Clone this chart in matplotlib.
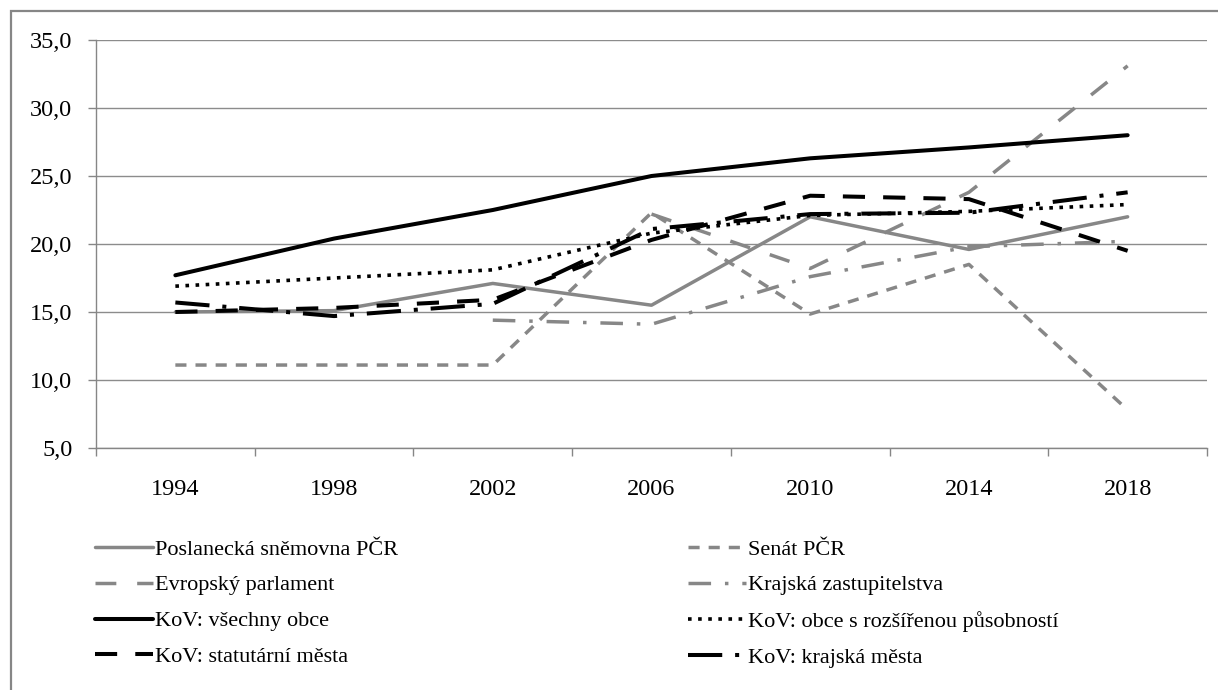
import numpy as np
import matplotlib
matplotlib.use("Agg")
import matplotlib.pyplot as plt
from matplotlib.patches import Rectangle
from matplotlib.ticker import FixedLocator, FuncFormatter

plt.rcParams['font.family'] = ['Liberation Serif', 'DejaVu Serif']

years = ['1994', '1998', '2002', '2006', '2010', '2014', '2018']
nan = np.nan
poslanecka = [15.0, 15.1, 17.1, 15.5, 22.0, 19.6, 22.0]
senat = [11.1, 11.1, 11.1, 22.3, 14.85, 18.5, 7.8]
evropsky = [nan, nan, nan, 22.2, 18.2, 23.8, 33.1]
krajska_zast = [nan, nan, 14.4, 14.1, 17.6, 19.8, 20.2]
kov_vsechny = [17.7, 20.4, 22.5, 25.0, 26.3, 27.1, 28.0]
kov_orp = [16.9, 17.5, 18.1, 20.8, 22.1, 22.4, 22.9]
kov_statutarni = [15.0, 15.3, 15.9, 20.3, 23.55, 23.3, 19.5]
kov_krajska = [15.7, 14.7, 15.6, 21.1, 22.2, 22.3, 23.8]

labels = ['Poslanecká sněmovna PČR', 'Senát PČR', 'Evropský parlament',
          'Krajská zastupitelstva', 'KoV: všechny obce',
          'KoV: obce s rozšířenou působností', 'KoV: statutární města',
          'KoV: krajská města']
yticks = [5, 10, 15, 20, 25, 30, 35]

GREY = '#878787'
styles = [
    dict(color=GREY, lw=2.5, ls='-'),
    dict(color=GREY, lw=2.5, ls=(0, (3.2, 2.6))),
    dict(color=GREY, lw=2.5, ls=(0, (6, 6))),
    dict(color=GREY, lw=2.5, ls=(0, (6.5, 4, 1, 4))),
    dict(color='black', lw=2.9, ls='-'),
    dict(color='black', lw=2.6, ls=(0, (1, 1.8))),
    dict(color='black', lw=2.9, ls=(0, (5.5, 4.5))),
    dict(color='black', lw=2.9, ls=(0, (8.5, 3.2, 1, 3.2))),
]
series = [poslanecka, senat, evropsky, krajska_zast, kov_vsechny,
          kov_orp, kov_statutarni, kov_krajska]

fig = plt.figure(figsize=(12.18, 6.90), dpi=100)
ax = fig.add_axes([96/1218, 1-448/690, (1207-96)/1218, (448-40)/690])

x = np.arange(len(years))
handles = []
for s, lab, st in zip(series, labels, styles):
    h, = ax.plot(x, s, label=lab, solid_capstyle='round',
                 dash_capstyle='butt', **st)
    handles.append(h)

ax.set_xlim(-0.5, len(years) - 0.5)
ax.set_ylim(5, 35)
ax.set_yticks(yticks)
ax.yaxis.set_major_formatter(FuncFormatter(lambda v, p: f'{v:.1f}'.replace('.', ',')))
ax.set_xticks(x)
ax.set_xticklabels(years)
ax.xaxis.set_minor_locator(FixedLocator(np.arange(-0.5, len(years), 1.0)))
ax.tick_params(axis='x', which='major', length=0, pad=22, labelsize=17.5)
ax.tick_params(axis='x', which='minor', length=6, width=1, color='#868686', direction='out')
ax.tick_params(axis='y', length=6, width=1, color='#868686', pad=11, labelsize=17.5)
ax.grid(axis='y', color='#8c8c8c', lw=1)
ax.set_axisbelow(True)
for sp in ['top', 'right']:
    ax.spines[sp].set_visible(False)
for sp in ['left', 'bottom']:
    ax.spines[sp].set_color('#868686')
    ax.spines[sp].set_linewidth(1)

order = [0, 2, 4, 6, 1, 3, 5, 7]
fig.legend([handles[i] for i in order], [labels[i] for i in order],
           ncol=2, loc='upper left', bbox_to_anchor=(95/1218, 1-539/690),
           frameon=False, fontsize=16, handlelength=2.6, handletextpad=0.1,
           columnspacing=13.05, labelspacing=0.69, borderpad=0, borderaxespad=0)

fig.patches.append(Rectangle((11/1218, -0.1), 1.2, (690-11)/690 + 0.1,
                             transform=fig.transFigure, fill=False,
                             edgecolor='#868686', lw=1.6, clip_on=False))

fig.savefig('out.png', dpi=100)
